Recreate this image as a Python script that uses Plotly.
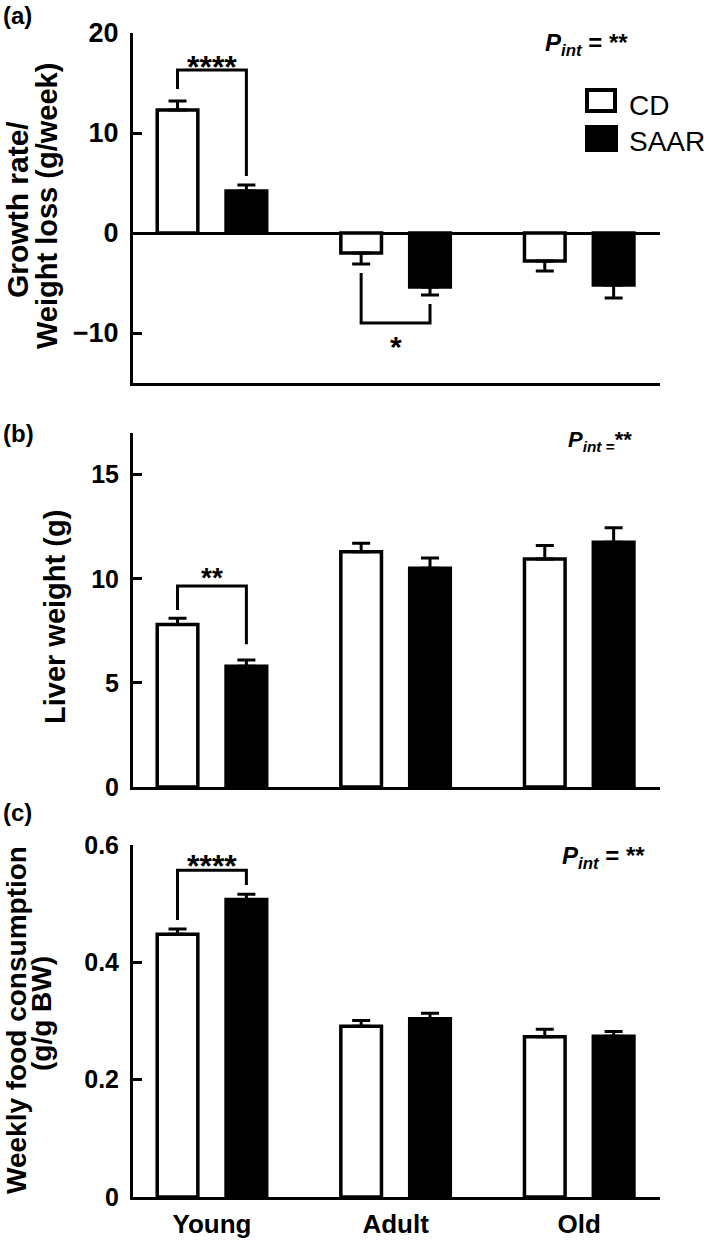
import plotly.graph_objects as go

W, H = 709, 1241
FONT = "Liberation Sans, Arial, Helvetica, sans-serif"

# ---------------- data ----------------
categories = ["Young", "Adult", "Old"]
groups = ["CD", "SAAR"]

growth_cd = [12.3, -2.0, -2.8]
growth_cd_sem = [0.9, 1.1, 1.0]
growth_saar = [4.2, -5.4, -5.2]
growth_saar_sem = [0.6, 0.8, 1.3]

liver_cd = [7.8, 11.3, 10.95]
liver_cd_sem = [0.3, 0.4, 0.65]
liver_saar = [5.8, 10.5, 11.75]
liver_saar_sem = [0.3, 0.5, 0.7]

food_cd = [0.448, 0.291, 0.273]
food_cd_sem = [0.009, 0.010, 0.013]
food_saar = [0.507, 0.304, 0.274]
food_saar_sem = [0.009, 0.009, 0.008]

growth_ticks = [-10, 0, 10, 20]
liver_ticks = [0, 5, 10, 15]
food_ticks = [0, 0.2, 0.4, 0.6]

growth_range = [-15, 20]
liver_range = [0, 17]
food_range = [0, 0.6]

# significance brackets: panel, group index, left-leg start, bracket level, right-leg start, label, label y
brackets = [
    (0, 0, 14.4, 16.3, 5.7, "****", 16.6),
    (0, 1, -4.0, -9.0, -7.1, "*", -11.3),
    (1, 0, 8.5, 9.65, 6.85, "**", 10.05),
    (2, 0, 0.472, 0.557, 0.532, "****", 0.564),
]
star_sizes = [32, 30, 28, 32]

panel_letters = ["(a)", "(b)", "(c)"]
pint_texts = [
    "<b><i>P</i><sub><i>int</i></sub> = **</b>",
    "<b><i>P</i><sub><i>int</i> =</sub>**</b>",
    "<b><i>P</i><sub><i>int</i></sub> = **</b>",
]

# ---------------- layout helpers ----------------
BARGAP = 0.25
BARGROUPGAP = 0.41
OFF = (1 - BARGAP) / 4.0  # centre offset of each bar in a group

def px_x(p):
    return p / W

def px_y(p):
    return 1 - p / H

X_DOM = [px_x(133), px_x(660)]
Y_DOMS = [
    [px_y(383), px_y(33)],
    [px_y(787), px_y(433)],
    [px_y(1197), px_y(845)],
]
X_RANGE = [-0.43, 2.44]

fig = go.Figure()
xpos = list(range(len(categories)))

panels = [
    (growth_cd, growth_cd_sem, growth_saar, growth_saar_sem),
    (liver_cd, liver_cd_sem, liver_saar, liver_saar_sem),
    (food_cd, food_cd_sem, food_saar, food_saar_sem),
]

for i, (cd, cd_e, sa, sa_e) in enumerate(panels):
    xa = "x" if i == 0 else f"x{i+1}"
    ya = "y" if i == 0 else f"y{i+1}"
    for name, vals, errs, fill in [("CD", cd, cd_e, "white"), ("SAAR", sa, sa_e, "black")]:
        up = [e if v >= 0 else 0 for v, e in zip(vals, errs)]
        dn = [0 if v >= 0 else e for v, e in zip(vals, errs)]
        fig.add_trace(go.Bar(
            x=xpos, y=vals, name=name, xaxis=xa, yaxis=ya,
            marker=dict(color=fill, line=dict(color="black", width=3.5)),
            error_y=dict(type="data", symmetric=False, array=up, arrayminus=dn,
                         color="black", thickness=3, width=9),
            showlegend=False, hoverinfo="skip",
        ))

annotations = []
for k, (p, g, yl, yb, yr, lab, ly) in enumerate(brackets):
    xa = "x" if p == 0 else f"x{p+1}"
    ya = "y" if p == 0 else f"y{p+1}"
    xl, xr = g - OFF, g + OFF
    fig.add_trace(go.Scatter(
        x=[xl, xl, xr, xr], y=[yl, yb, yb, yr], mode="lines",
        line=dict(color="black", width=3), xaxis=xa, yaxis=ya,
        showlegend=False, hoverinfo="skip",
    ))
    annotations.append(dict(
        x=g, y=ly, xref=xa, yref=ya, text=lab, showarrow=False,
        xanchor="center", yanchor="middle",
        font=dict(family=FONT, size=star_sizes[k], color="black", weight="bold"),
    ))

def yaxis(i, rng, ticks, fs, zeroline=False):
    return dict(
        domain=Y_DOMS[i], range=rng, tickvals=ticks, ticks="inside", ticklen=9,
        tickwidth=3, tickcolor="black", showline=True, linewidth=3, linecolor="black",
        showgrid=False, zeroline=zeroline, zerolinecolor="black", zerolinewidth=3,
        tickfont=dict(family=FONT, size=fs, color="black", weight="bold"),
        ticklabelstandoff=6, anchor="x" if i == 0 else f"x{i+1}", fixedrange=True,
        automargin=False,
    )

def xaxis(i, labels):
    d = dict(
        domain=X_DOM, range=X_RANGE, ticks="", showline=True, linewidth=3, linecolor="black",
        showgrid=False, zeroline=False, showticklabels=labels,
        anchor="y" if i == 0 else f"y{i+1}", fixedrange=True, automargin=False,
    )
    if labels:
        d.update(tickvals=xpos, ticktext=categories, ticklabelstandoff=2,
                 tickfont=dict(family=FONT, size=26, color="black", weight="bold"))
    else:
        d.update(tickvals=[])
    return d

# panel letters
for txt, top in zip(panel_letters, [0, 418, 797]):
    annotations.append(dict(
        x=px_x(1), y=px_y(top), xref="paper", yref="paper", text=f"<b>{txt}</b>",
        showarrow=False, xanchor="left", yanchor="top",
        font=dict(family=FONT, size=24, color="black"),
    ))

# P_int labels
for txt, (lx, cy, fs) in zip(pint_texts, [(543, 44, 24), (566, 441, 22), (560, 857, 24)]):
    annotations.append(dict(
        x=px_x(lx), y=px_y(cy), xref="paper", yref="paper", text=txt,
        showarrow=False, xanchor="left", yanchor="middle",
        font=dict(family=FONT, size=fs, color="black"),
    ))

# y-axis titles (rotated)
ytitles = [
    ("Growth rate/", 17, 210, 30),
    ("Weight loss (g/week)", 47, 206, 29),
    ("Liver weight (g)", 55, 617, 29),
    ("Weekly food consumption", 16, 1020, 28),
    ("(g/g BW)", 41, 1014, 28),
]
for txt, cx, cy, fs in ytitles:
    annotations.append(dict(
        x=px_x(cx), y=px_y(cy), xref="paper", yref="paper", text=f"<b>{txt}</b>",
        textangle=-90, showarrow=False, xanchor="center", yanchor="middle",
        font=dict(family=FONT, size=fs, color="black"),
    ))

# legend (drawn manually)
shapes = [
    dict(type="rect", xref="paper", yref="paper", x0=px_x(587), x1=px_x(615),
         y0=px_y(111), y1=px_y(90), line=dict(color="black", width=4), fillcolor="white"),
    dict(type="rect", xref="paper", yref="paper", x0=px_x(587), x1=px_x(616),
         y0=px_y(150), y1=px_y(127), line=dict(color="black", width=4), fillcolor="black"),
]
for txt, cy in zip(groups, [105, 141]):
    annotations.append(dict(
        x=px_x(627), y=px_y(cy), xref="paper", yref="paper", text=txt,
        showarrow=False, xanchor="left", yanchor="middle",
        font=dict(family=FONT, size=28, color="black"),
    ))

fig.update_layout(
    width=W, height=H, margin=dict(l=0, r=0, t=0, b=0, autoexpand=False),
    paper_bgcolor="white", plot_bgcolor="white",
    barmode="group", bargap=BARGAP, bargroupgap=BARGROUPGAP,
    showlegend=False,
    xaxis=xaxis(0, False), xaxis2=xaxis(1, False), xaxis3=xaxis(2, True),
    yaxis=yaxis(0, growth_range, growth_ticks, 27, zeroline=True),
    yaxis2=yaxis(1, liver_range, liver_ticks, 25),
    yaxis3=yaxis(2, food_range, food_ticks, 25),
    annotations=annotations, shapes=shapes,
)

fig.write_html(
    "out.html",
    config={"displayModeBar": False},
    post_script="document.body.style.margin='0';document.body.style.overflow='hidden';",
)
